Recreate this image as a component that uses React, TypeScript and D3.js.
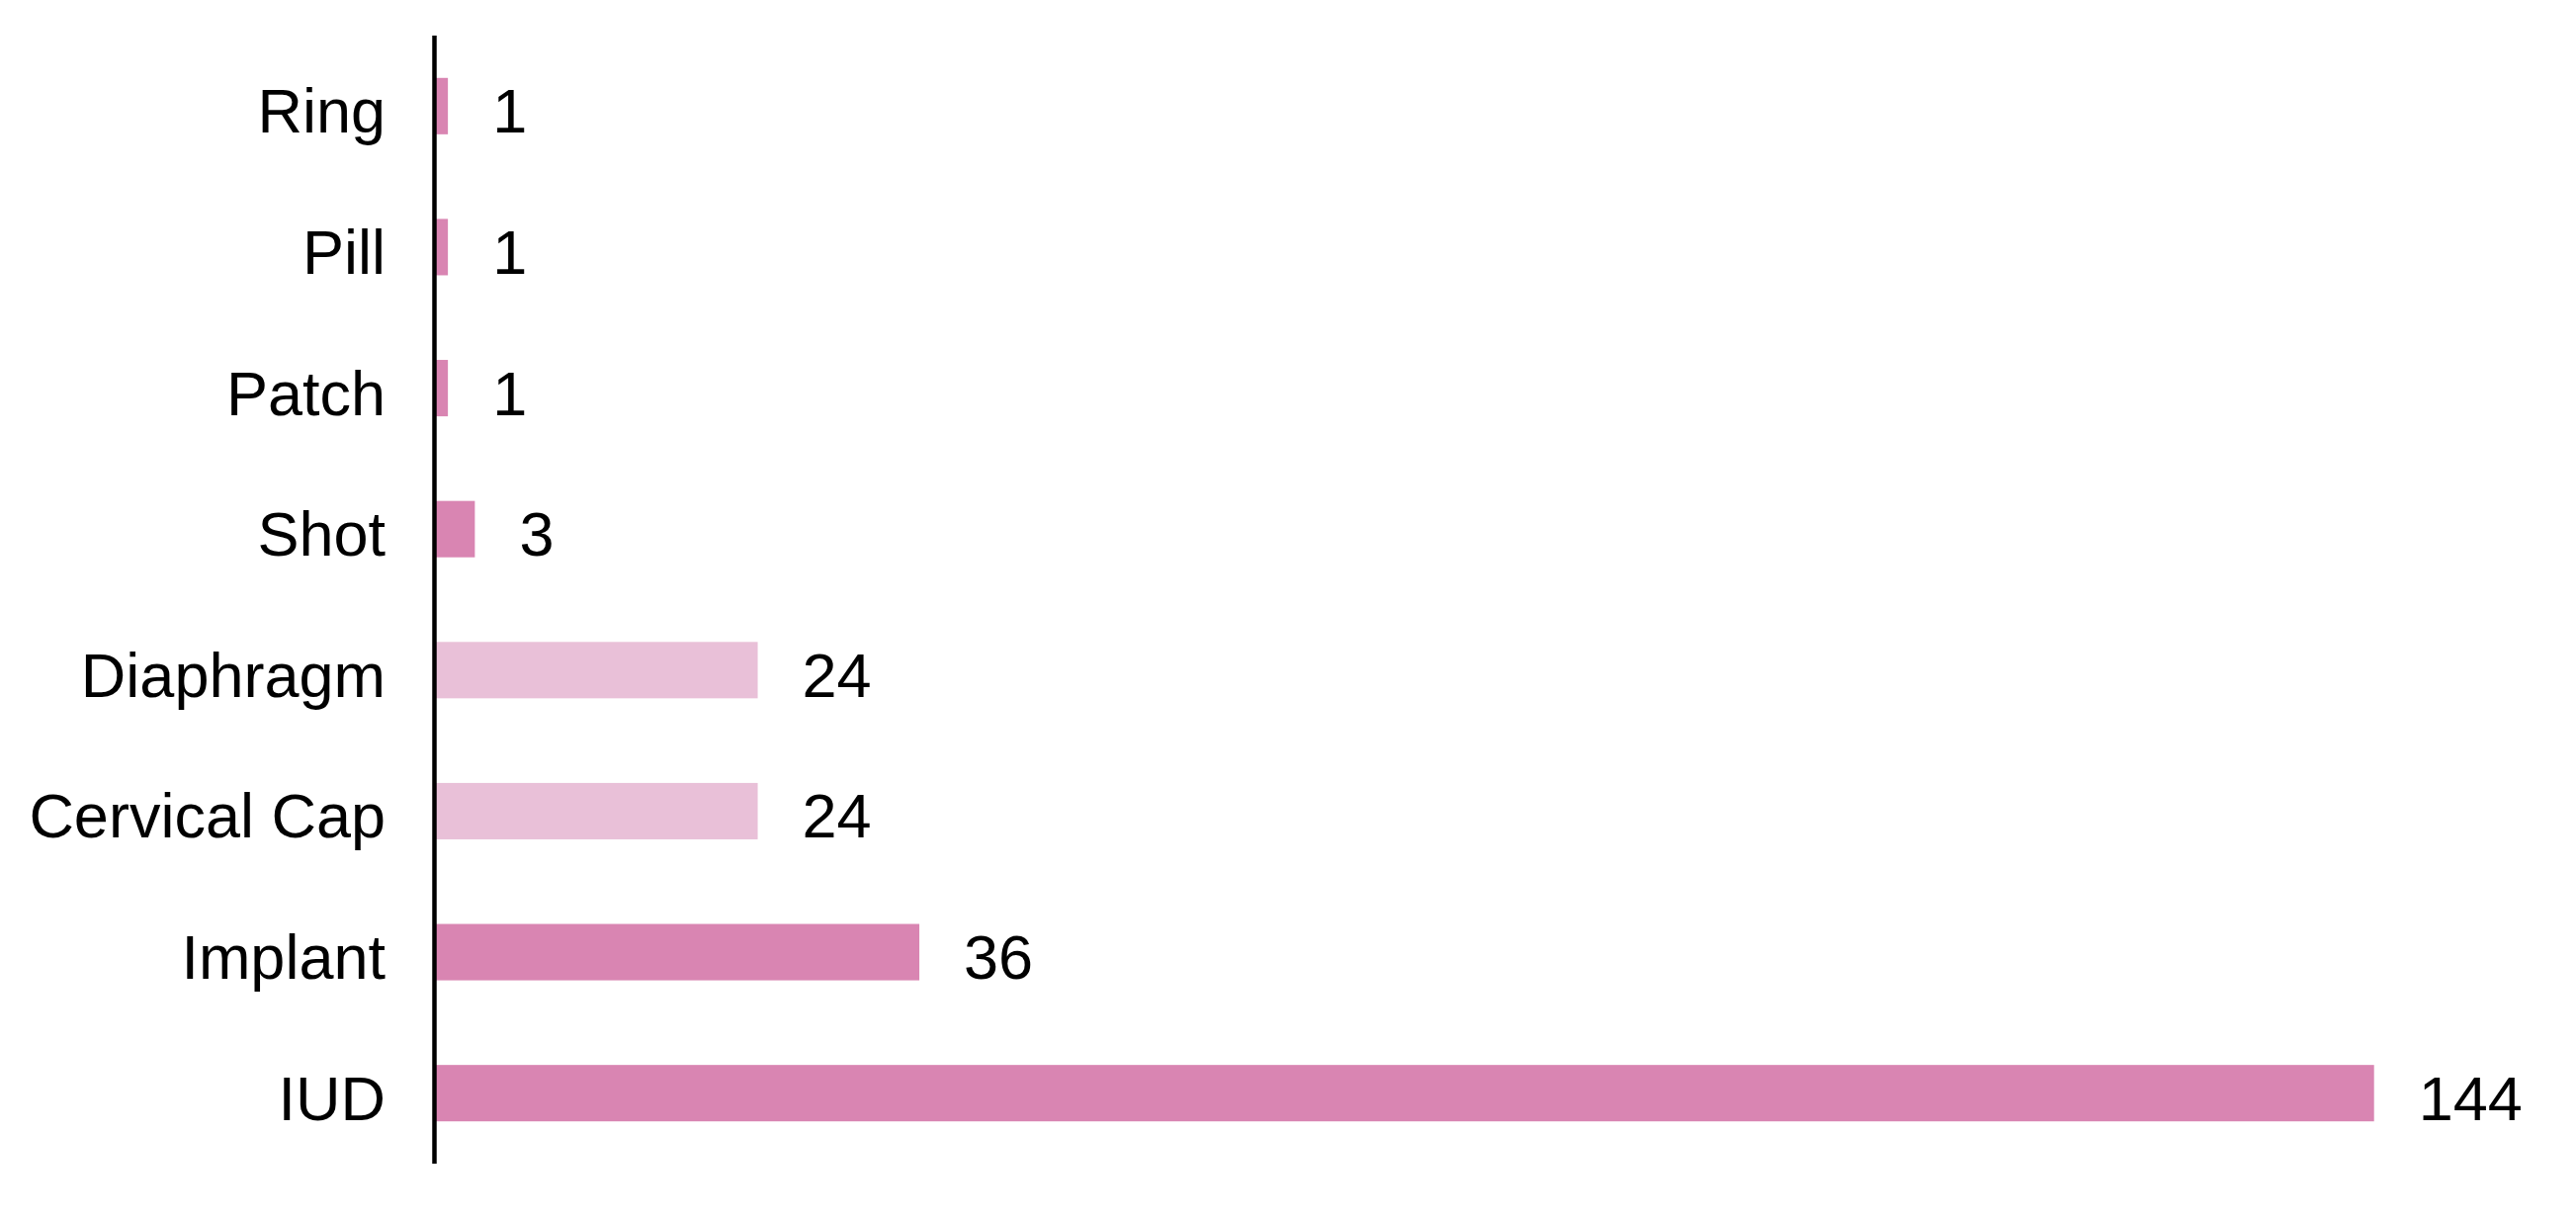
import React from "react";
import * as d3 from "d3";

const categories = ["Ring", "Pill", "Patch", "Shot", "Diaphragm", "Cervical Cap", "Implant", "IUD"];
const values = [1, 1, 1, 3, 24, 24, 36, 144];
const groups = ["a", "a", "a", "a", "b", "b", "a", "a"];

const W = 2606;
const H = 1235;
const axisX = 439.5;
const FONT = "'Liberation Sans', Arial, Helvetica, sans-serif";

export default function App() {
  const x = d3.scaleLinear().domain([0, 144]).range([axisX, 2401.7]);
  const y = d3
    .scaleBand<string>()
    .domain(categories)
    .range([36, 1177])
    .paddingInner(0.6)
    .paddingOuter(0.3);
  const color = d3.scaleOrdinal<string, string>().domain(["a", "b"]).range(["#d985b2", "#e9c0d8"]);
  const bw = y.bandwidth();

  return (
    <svg
      width={W}
      height={H}
      style={{ position: "absolute", left: 0, top: 0, background: "#fff" }}
      fontFamily={FONT}
    >
      {categories.map((c, i) => {
        const yc = (y(c) as number) + bw / 2;
        return (
          <g key={c}>
            <rect x={x(0)} y={y(c)} width={x(values[i]) - x(0)} height={bw} fill={color(groups[i])} />
            <text x={390} y={yc + 27} textAnchor="end" fontSize={63} fill="#000">
              {c}
            </text>
            <text x={x(values[i]) + 45} y={yc + 27} textAnchor="start" fontSize={63} fill="#000">
              {values[i]}
            </text>
          </g>
        );
      })}
      <line x1={axisX} x2={axisX} y1={36} y2={1177} stroke="#000" strokeWidth={4.5} />
    </svg>
  );
}
